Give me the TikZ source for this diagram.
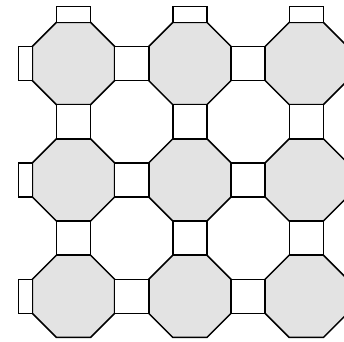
\documentclass[tikz,border=0pt]{standalone}
\begin{document}
\begin{tikzpicture}[x=1bp, y=-1bp,
    tile/.style={draw=black, line width=1.5bp, line join=miter},
    octtile/.style={tile, fill=black!11},
    sqtile/.style={tile, fill=white}]
  \useasboundingbox (0,0) rectangle (344,342);
  \clip (0,0) rectangle (344,342);

  \def\s{34.1}     % side of a square
  \def\h{41.16}    % half width of an octagon
  \def\d{116.4}    % distance between octagon centres
  \def\xzero{73.5}
  \def\yzero{63.5}

  % grey octagons
  \foreach \i in {0,1,2} {
    \foreach \j in {0,1,2} {
      \pgfmathsetmacro{\cx}{\xzero + \d*\i}
      \pgfmathsetmacro{\cy}{\yzero + \d*\j}
      \draw[octtile] (\cx-\s/2,\cy-\h) -- (\cx+\s/2,\cy-\h) -- (\cx+\h,\cy-\s/2)
        -- (\cx+\h,\cy+\s/2) -- (\cx+\s/2,\cy+\h) -- (\cx-\s/2,\cy+\h)
        -- (\cx-\h,\cy+\s/2) -- (\cx-\h,\cy-\s/2) -- cycle;
    }
  }

  % squares between the octagons
  \foreach \i in {0,1,2} {
    \foreach \j in {0,1,2} {
      \pgfmathsetmacro{\cx}{\xzero + \d*\i}
      \pgfmathsetmacro{\cy}{\yzero + \d*\j}
      \ifnum\i<2
        \draw[sqtile] (\cx+\h,\cy-\s/2) rectangle (\cx+\h+\s,\cy+\s/2);
      \fi
      \ifnum\j<2
        \draw[sqtile] (\cx-\s/2,\cy+\h) rectangle (\cx+\s/2,\cy+\h+\s);
      \fi
    }
  }

  % half squares on the top and left borders
  \foreach \i in {0,1,2} {
    \pgfmathsetmacro{\cx}{\xzero + \d*\i}
    \draw[sqtile] (\cx-\s/2,\yzero-\h) rectangle (\cx+\s/2,\yzero-\h-16);
    \draw[sqtile] (\xzero-\h,\cx-\xzero+\yzero-\s/2) rectangle (\xzero-\h-14,\cx-\xzero+\yzero+\s/2);
  }
\end{tikzpicture}
\end{document}
